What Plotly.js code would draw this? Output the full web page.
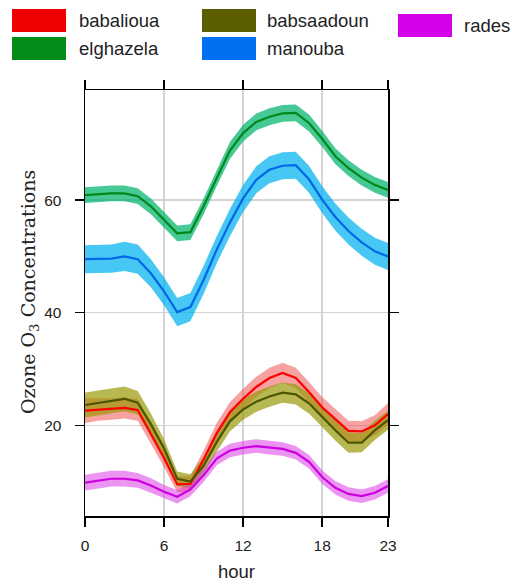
<!DOCTYPE html>
<html>
<head>
<meta charset="utf-8">
<script src="https://cdn.plot.ly/plotly-3.0.1.min.js"></script>
<style>
  html, body { margin: 0; padding: 0; background: #ffffff; }
  #chart { width: 512px; height: 584px; }
</style>
</head>
<body>
<div id="chart"></div>
<script>
// Mean hourly ozone (O3) concentration by site, with the half-width of the confidence band.
const hours = [0,1,2,3,4,5,6,7,8,9,10,11,12,13,14,15,16,17,18,19,20,21,22,23];

const babalioua  = [22.6,22.8,22.9,23.1,22.7,18.5,14.2,9.5,9.6,13.9,18.6,22.3,24.7,26.8,28.4,29.3,28.4,25.9,23.2,21.1,19.0,18.9,20.0,22.0];
const babsaadoun = [23.6,24.0,24.3,24.7,24.0,20.2,15.9,10.5,10.0,12.8,17.0,20.7,22.8,24.2,25.1,25.8,25.5,23.9,21.5,19.1,16.9,16.9,19.1,20.9];
const elghazela  = [60.9,61.1,61.2,61.2,60.7,58.9,56.5,54.1,54.3,58.9,63.9,68.8,71.9,73.9,74.8,75.4,75.5,73.7,70.9,67.8,65.7,64.0,62.7,61.8];
const manouba    = [49.5,49.5,49.6,50.0,49.5,47.0,43.8,40.1,41.0,45.8,51.2,56.0,60.3,63.6,65.4,66.1,66.2,63.7,60.1,57.0,54.5,52.5,50.9,50.0];
const rades      = [9.8,10.1,10.5,10.5,10.2,9.3,8.2,7.3,8.6,11.1,14.1,15.5,16.0,16.3,16.0,15.8,15.1,13.5,10.8,8.9,7.8,7.4,8.0,9.2];

const ciBabalioua  = [2.2,2.0,1.9,1.9,1.9,1.8,1.6,1.4,1.4,1.6,1.8,1.8,1.8,1.8,1.8,1.8,1.8,1.8,1.8,1.8,1.8,1.8,1.8,1.9];
const ciBabsaadoun = [2.2,2.2,2.2,2.2,2.1,1.9,1.6,1.3,1.3,1.5,1.7,1.8,1.8,1.8,1.8,1.8,1.8,1.8,1.8,1.8,1.8,1.7,1.7,1.7];
const ciElghazela  = [1.4,1.4,1.4,1.4,1.4,1.4,1.4,1.4,1.4,1.4,1.4,1.5,1.5,1.5,1.5,1.5,1.5,1.5,1.4,1.4,1.4,1.4,1.4,1.4];
const ciManouba    = [2.5,2.5,2.5,2.6,2.6,2.5,2.5,2.5,2.5,2.5,2.4,2.4,2.4,2.4,2.4,2.4,2.4,2.4,2.4,2.4,2.4,2.4,2.4,2.4];
const ciRades      = [1.4,1.4,1.4,1.4,1.3,1.3,1.2,1.2,1.2,1.2,1.2,1.2,1.2,1.2,1.2,1.2,1.2,1.2,1.2,1.2,1.2,1.2,1.2,1.2];

const siteNames = ["babalioua", "babsaadoun", "elghazela", "manouba", "rades"];
const xTicks = [0, 6, 12, 18, 23];
const yTicks = [20, 40, 60];

// styling per site: line colour, band colour, legend swatch colour
const styles = {
  babalioua:  { line: "#ff0000", band: "rgba(240,70,70,0.50)",  swatch: "#f00000" },
  babsaadoun: { line: "#4d5400", band: "rgba(150,150,0,0.68)",  swatch: "#5c5c00" },
  elghazela:  { line: "#00881a", band: "rgba(0,180,110,0.72)",  swatch: "#048c18" },
  manouba:    { line: "#0068e8", band: "rgba(0,178,240,0.72)",  swatch: "#0070f0" },
  rades:      { line: "#cc00e0", band: "rgba(220,60,230,0.55)", swatch: "#d400e8" }
};

const series = {
  babalioua:  { mean: babalioua,  ci: ciBabalioua },
  babsaadoun: { mean: babsaadoun, ci: ciBabsaadoun },
  elghazela:  { mean: elghazela,  ci: ciElghazela },
  manouba:    { mean: manouba,    ci: ciManouba },
  rades:      { mean: rades,      ci: ciRades }
};

const traces = [];
// confidence bands first
siteNames.forEach(name => {
  const s = series[name];
  const lo = s.mean.map((v, i) => v - s.ci[i]);
  const hi = s.mean.map((v, i) => v + s.ci[i]);
  traces.push({
    x: hours, y: lo, type: "scatter", mode: "lines",
    line: { width: 0, color: styles[name].band },
    hoverinfo: "skip", showlegend: false
  });
  traces.push({
    x: hours, y: hi, type: "scatter", mode: "lines",
    line: { width: 0, color: styles[name].band },
    fill: "tonexty", fillcolor: styles[name].band,
    hoverinfo: "skip", showlegend: false
  });
});
// mean lines on top
siteNames.forEach(name => {
  traces.push({
    x: hours, y: series[name].mean, type: "scatter", mode: "lines",
    name: name,
    line: { width: 2.2, color: styles[name].line },
    showlegend: false
  });
});

// plot area in pixels
const W = 512, H = 584;
const L = 85, R = 388, T = 90, B = 516;
const px = x => (x - L) / (R - L);
const py = y => (B - y) / (B - T);

// legend drawn as swatches + labels above the plot
const legendItems = [
  { name: "babalioua",  x0: 12,  y0: 9,  y1: 32, tx: 77 },
  { name: "elghazela",  x0: 12,  y0: 37, y1: 60, tx: 77 },
  { name: "babsaadoun", x0: 202, y0: 9,  y1: 32, tx: 265 },
  { name: "manouba",    x0: 202, y0: 37, y1: 60, tx: 265 },
  { name: "rades",      x0: 398, y0: 14, y1: 37, tx: 462 }
];
const shapes = legendItems.map(it => ({
  type: "rect", xref: "paper", yref: "paper",
  x0: px(it.x0), x1: px(it.x0 + 54), y0: py(it.y1), y1: py(it.y0),
  fillcolor: styles[it.name].swatch, line: { width: 0 }
}));
const annotations = legendItems.map(it => ({
  xref: "paper", yref: "paper", x: px(it.tx), y: py((it.y0 + it.y1) / 2),
  xanchor: "left", yanchor: "middle", showarrow: false,
  text: it.name,
  font: { family: "Liberation Sans, Arial, sans-serif", size: 18.5, color: "#222" }
}));
annotations.push({
  xref: "paper", yref: "paper", x: px(29), y: py(292),
  xanchor: "center", yanchor: "middle", showarrow: false, textangle: -90,
  text: "Ozone O<sub>3</sub> Concentrations",
  font: { family: "DejaVu Serif, serif", size: 19, color: "#222" }
});

const axisCommon = {
  showline: true, linecolor: "#000", linewidth: 1.5, mirror: "ticks",
  ticks: "outside", ticklen: 9, tickwidth: 1.5, tickcolor: "#000",
  showgrid: true, gridcolor: "#d4d4d4", gridwidth: 1.5, zeroline: false,
  tickfont: { family: "Liberation Sans, Arial, sans-serif", size: 15.5, color: "#222" }
};

const layout = {
  width: W, height: H,
  margin: { l: L, r: W - R, t: T, b: H - B, pad: 0 },
  paper_bgcolor: "#fff", plot_bgcolor: "#fff",
  showlegend: false,
  xaxis: Object.assign({}, axisCommon, {
    range: [0, 23], tickvals: xTicks, ticktext: xTicks.map(String),
    ticklabelstandoff: 6,
    title: { text: "hour", standoff: 12,
      font: { family: "Liberation Sans, Arial, sans-serif", size: 18.5, color: "#222" } }
  }),
  yaxis: Object.assign({}, axisCommon, {
    range: [3.88, 79.56], tickvals: yTicks, ticktext: yTicks.map(String),
    ticklabelstandoff: 10
  }),
  shapes: shapes,
  annotations: annotations
};

Plotly.newPlot("chart", traces, layout, { displayModeBar: false, staticPlot: true });
</script>
</body>
</html>
